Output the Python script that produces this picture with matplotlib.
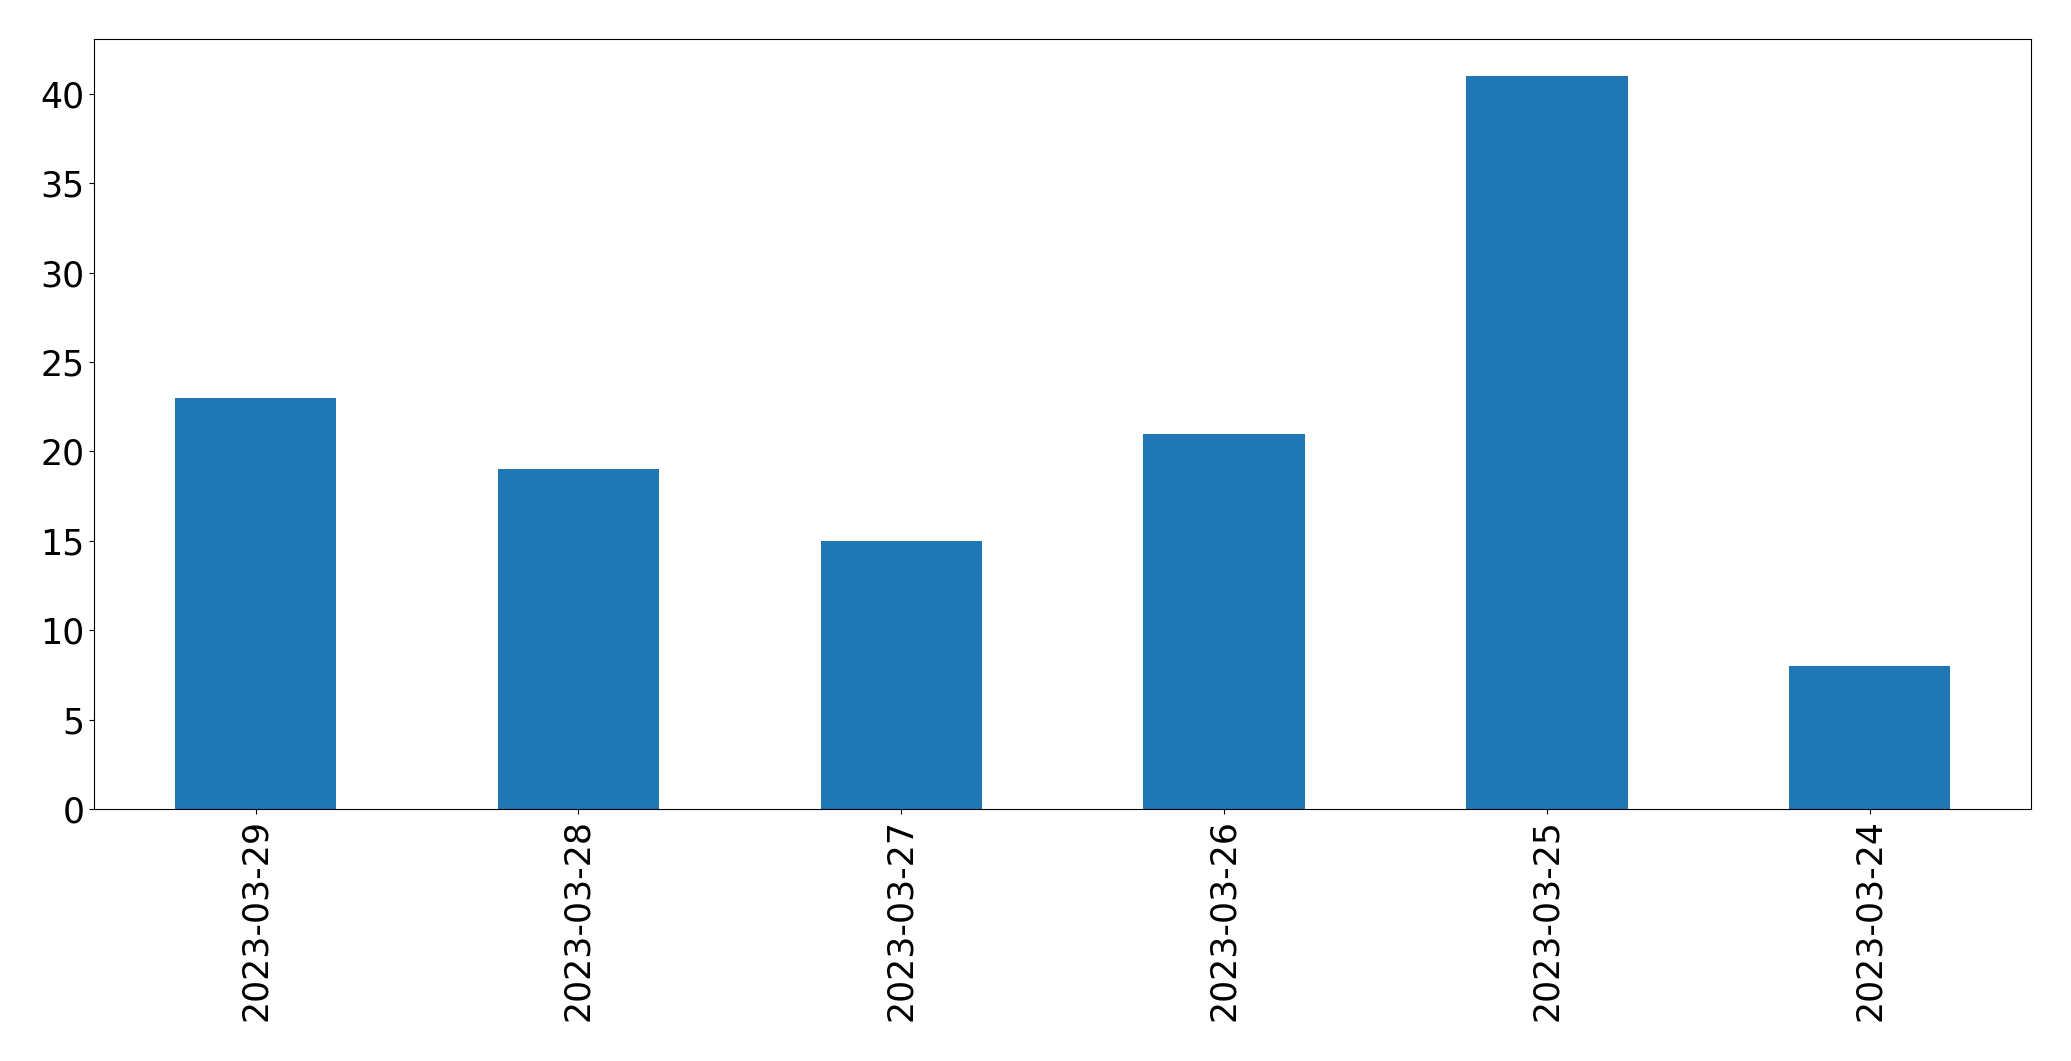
import matplotlib
matplotlib.use("Agg")
import matplotlib.pyplot as plt
import pandas as pd

dates = ["2023-03-29", "2023-03-28", "2023-03-27", "2023-03-26", "2023-03-25", "2023-03-24"]
counts = [23, 19, 15, 21, 41, 8]

s = pd.Series(counts, index=dates)

fig, ax = plt.subplots(figsize=(20.71, 10.61), dpi=100)
s.plot(kind="bar", ax=ax, color="#1f77b4")
ax.tick_params(axis="both", labelsize=25)
fig.subplots_adjust(left=0.0455, right=0.9807, top=0.963, bottom=0.2375)
fig.savefig("out.png", dpi=100)
